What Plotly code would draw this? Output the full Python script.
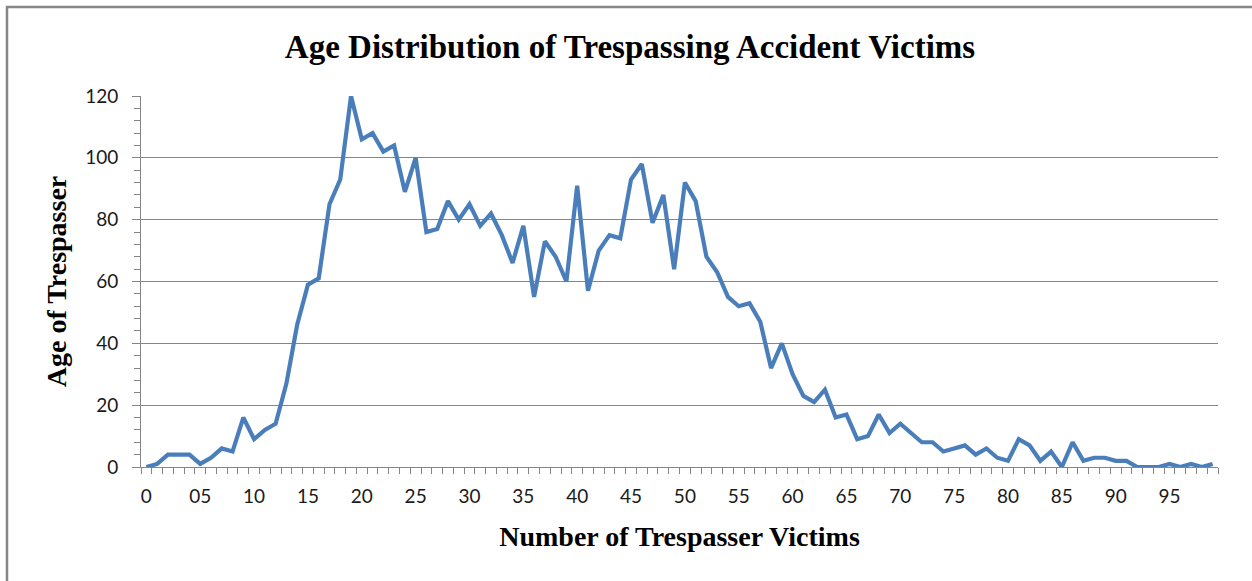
import plotly.graph_objects as go

ages = list(range(100))
victims = [0, 1, 4, 4, 4, 1, 3, 6, 5, 16,
           9, 12, 14, 27, 46, 59, 61, 85, 93, 120,
           106, 108, 102, 104, 89, 100, 76, 77, 86, 80,
           85, 78, 82, 75, 66, 78, 55, 73, 68, 60,
           91, 57, 70, 75, 74, 93, 98, 79, 88, 64,
           92, 86, 68, 63, 55, 52, 53, 47, 32, 40,
           30, 23, 21, 25, 16, 17, 9, 10, 17, 11,
           14, 11, 8, 8, 5, 6, 7, 4, 6, 3,
           2, 9, 7, 2, 5, 0, 8, 2, 3, 3,
           2, 2, 0, 0, 0, 1, 0, 1, 0, 1]
tick_vals = list(range(0, 100, 5))
tick_text = ["0", "05"] + [str(v) for v in range(10, 100, 5)]

title_text = "Age Distribution of Trespassing Accident Victims"
x_title = "Number of Trespasser Victims"
y_title = "Age of Trespasser"

GRID = "#868686"
LINE = "#4A7EBB"
TICKFONT = dict(family="Lato, Open Sans, sans-serif", size=19, color="#1a1a1a")
SERIF = "Liberation Serif, DejaVu Serif, serif"

fig = go.Figure()
fig.add_trace(go.Scatter(x=ages, y=victims, mode="lines",
                         line=dict(color=LINE, width=4.2),
                         hoverinfo="x+y", showlegend=False))

L, R, T, B = 141, 34, 96, 114
W, H = 1252, 581
pw, ph = W - L - R, H - T - B

fig.update_layout(
    width=W, height=H,
    margin=dict(l=L, r=R, t=T, b=B),
    paper_bgcolor="white", plot_bgcolor="white",
    title=dict(text="<b>" + title_text + "</b>", x=630 / W, xanchor="center",
               y=1 - 46 / H, yanchor="middle",
               font=dict(family=SERIF, size=33, color="#000000")),
    xaxis=dict(
        range=[-0.5, 99.5], tickmode="array", tickvals=tick_vals, ticktext=tick_text,
        ticks="", showgrid=False, zeroline=False,
        showline=True, linecolor=GRID, linewidth=1,
        tickfont=TICKFONT, ticklabelstandoff=12,
        minor=dict(ticks="outside", tickmode="linear", tick0=0.5, dtick=1,
                   ticklen=6, tickcolor=GRID, tickwidth=1, showgrid=False),
        title=dict(text="<b>" + x_title + "</b>",
                   font=dict(family=SERIF, size=28, color="#000000"), standoff=20),
    ),
    yaxis=dict(
        range=[0, 120], tickmode="linear", tick0=0, dtick=20,
        ticks="outside", ticklen=8, tickcolor=GRID, tickwidth=1,
        showgrid=True, gridcolor=GRID, gridwidth=1, zeroline=False,
        showline=True, linecolor=GRID, linewidth=1,
        tickfont=TICKFONT, ticklabelstandoff=10,
        minor=dict(ticks="outside", tickmode="linear", tick0=0, dtick=4,
                   ticklen=6, tickcolor=GRID, tickwidth=1, showgrid=False),
        title=dict(text="<b>" + y_title + "</b>",
                   font=dict(family=SERIF, size=28, color="#000000"), standoff=10),
    ),
    shapes=[dict(type="rect", xref="paper", yref="paper",
                 x0=(7 - L) / pw, x1=2.0, y0=-2.0, y1=1 + (T - 7) / ph,
                 line=dict(color="#878787", width=2.5), fillcolor="rgba(0,0,0,0)",
                 layer="below")],
)

fig.write_html("out.html", config={"displayModeBar": False},
               post_script="document.body.style.margin='0';")
